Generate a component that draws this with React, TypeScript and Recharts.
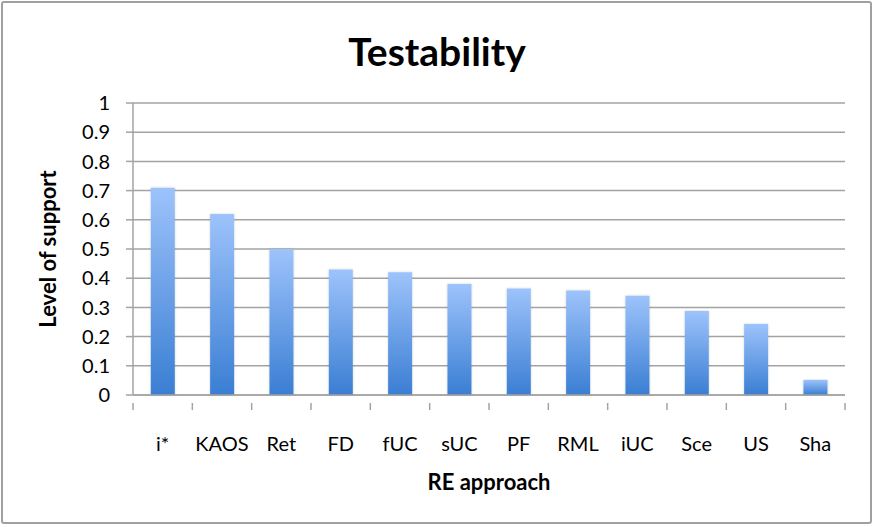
import React from 'react';
import { BarChart, Bar, XAxis, YAxis, CartesianGrid, Label } from 'recharts';

const categories = ['i*', 'KAOS', 'Ret', 'FD', 'fUC', 'sUC', 'PF', 'RML', 'iUC', 'Sce', 'US', 'Sha'];
const supportValues = [0.71, 0.62, 0.5, 0.43, 0.42, 0.38, 0.365, 0.358, 0.34, 0.288, 0.243, 0.052];
const yTicks = [0, 0.1, 0.2, 0.3, 0.4, 0.5, 0.6, 0.7, 0.8, 0.9, 1];
const yTickLabels = ['0', '0.1', '0.2', '0.3', '0.4', '0.5', '0.6', '0.7', '0.8', '0.9', '1'];

const data = categories.map((name, i) => ({ name, value: supportValues[i] }));

const W = 875;
const H = 527;
const margin = { top: 103, right: 30, bottom: 32, left: 33 };
const yAxisWidth = 100;
const xAxisHeight = 100;
const plotWidth = W - margin.left - margin.right - yAxisWidth;
const FONT = 'Lato, "Open Sans", sans-serif';
const GRID = '#a3a3a3';

const XTick = (props: any) => {
  const { x, y, payload, index } = props;
  const half = payload && payload.offset ? payload.offset : plotWidth / categories.length / 2;
  const last = index === categories.length - 1;
  return (
    <g>
      <line x1={x - half} x2={x - half} y1={y} y2={y + 7} stroke={GRID} strokeWidth={1.5} />
      {last && <line x1={x + half} x2={x + half} y1={y} y2={y + 7} stroke={GRID} strokeWidth={1.5} />}
      <text x={x} y={y + 48} textAnchor="middle" fontFamily={FONT} fontSize={20} fill="#000">
        {payload.value}
      </text>
    </g>
  );
};

export default function App() {
  return (
    <div style={{ position: 'absolute', left: 0, top: 0, width: W, height: H, background: '#fff' }}>
      <div
        style={{
          position: 'absolute',
          left: 1,
          top: 1,
          width: 871,
          height: 523,
          border: '2px solid #a0a0a0',
          borderRadius: 3,
          boxSizing: 'border-box',
          pointerEvents: 'none',
        }}
      />
      <svg style={{ position: 'absolute', left: 0, top: 0 }} width={W} height={100}>
        <text x={437} y={66} textAnchor="middle" fontFamily={FONT} fontWeight={700} fontSize={39} fill="#000">
          Testability
        </text>
      </svg>
      <div style={{ position: 'absolute', left: 0, top: 0 }}>
        <BarChart width={W} height={H} data={data} margin={margin} barCategoryGap="30%">
          <defs>
            <linearGradient id="barGrad" x1="0" y1="0" x2="0" y2="1">
              <stop offset="0%" stopColor="#9dc3fb" />
              <stop offset="100%" stopColor="#3a7ed3" />
            </linearGradient>
            <filter id="barShadow" x="-20%" y="-5%" width="140%" height="110%">
              <feDropShadow dx="0" dy="0" stdDeviation="1.2" floodColor="#000" floodOpacity="0.18" />
            </filter>
          </defs>
          <CartesianGrid vertical={false} stroke={GRID} strokeWidth={1.5} />
          <XAxis
            dataKey="name"
            height={xAxisHeight}
            tickLine={false}
            axisLine={{ stroke: GRID, strokeWidth: 1.5 }}
            tick={<XTick />}
            interval={0}
          >
            <Label
              value="RE approach"
              position="insideBottom"
              offset={0}
              content={(p: any) => {
                const vb = p.viewBox || {};
                return (
                  <text
                    x={vb.x + vb.width / 2}
                    y={490}
                    textAnchor="middle"
                    fontFamily={FONT}
                    fontWeight={700}
                    fontSize={22}
                    fill="#000"
                  >
                    RE approach
                  </text>
                );
              }}
            />
          </XAxis>
          <YAxis
            width={yAxisWidth}
            domain={[0, 1]}
            ticks={yTicks}
            interval={0}
            tickFormatter={(v: number) => yTickLabels[yTicks.indexOf(v)] ?? String(v)}
            tickSize={7}
            tickMargin={16}
            tickLine={{ stroke: GRID, strokeWidth: 1.5 }}
            axisLine={{ stroke: GRID, strokeWidth: 1.5 }}
            tick={{ fontFamily: FONT, fontSize: 20, fill: '#000' }}
          >
            <Label
              value="Level of support"
              angle={-90}
              position="insideLeft"
              offset={15}
              style={{ textAnchor: 'middle', fontFamily: FONT, fontWeight: 700, fontSize: 22, fill: '#000' }}
            />
          </YAxis>
          <Bar dataKey="value" fill="url(#barGrad)" filter="url(#barShadow)" isAnimationActive={false} />
        </BarChart>
      </div>
    </div>
  );
}
